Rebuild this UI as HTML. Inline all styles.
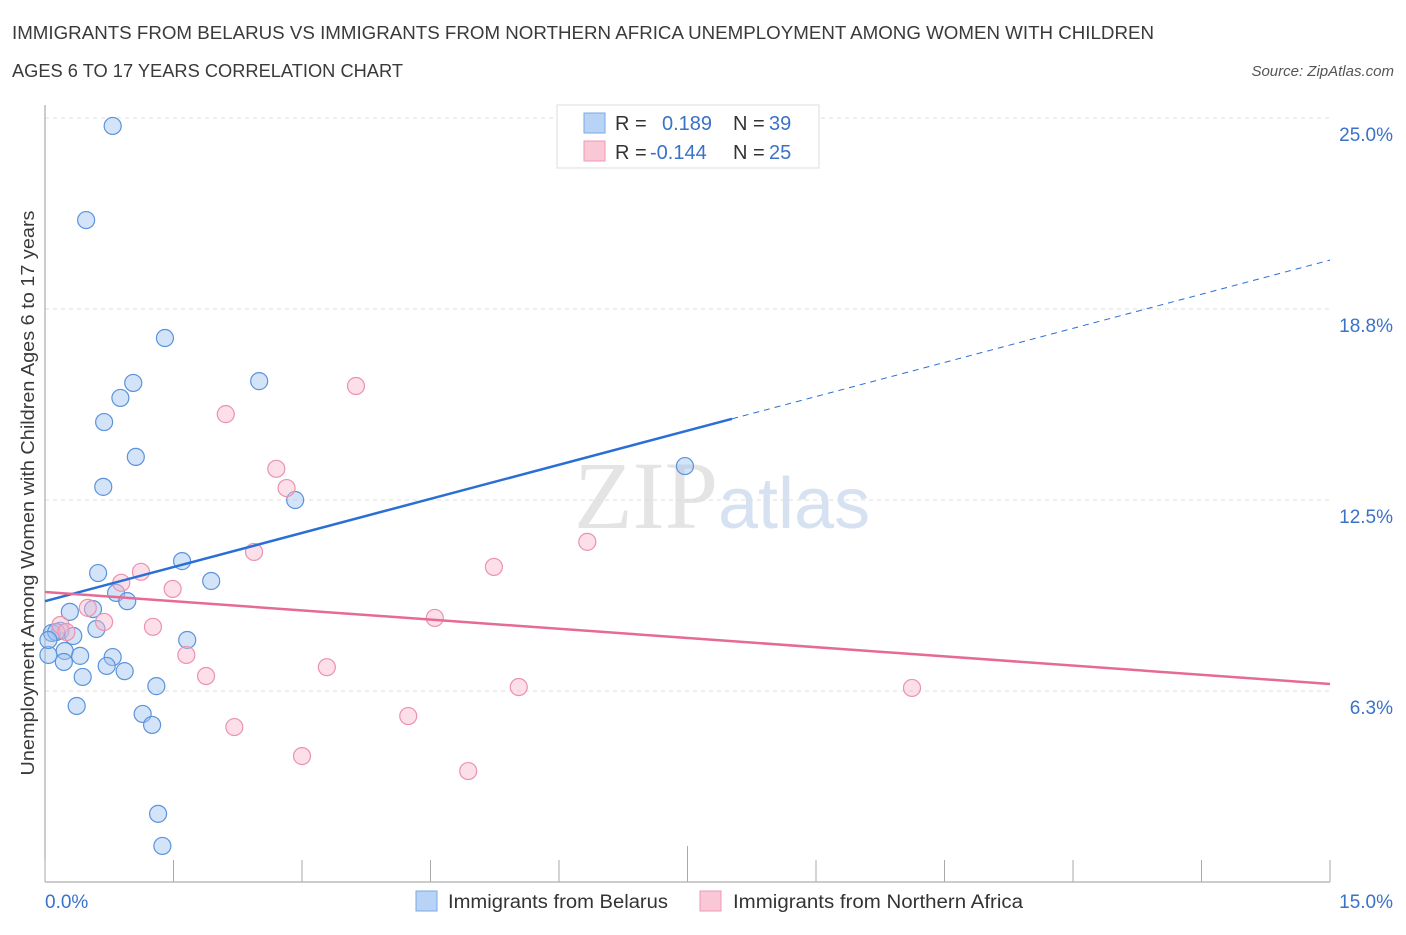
<!DOCTYPE html>
<html><head><meta charset="utf-8"><style>
body{margin:0;background:#fff;font-family:"Liberation Sans",sans-serif;}
</style></head><body>
<svg id="c" width="1406" height="930" xmlns="http://www.w3.org/2000/svg">
<text x="12" y="39" font-size="18" textLength="1142" lengthAdjust="spacingAndGlyphs" fill="#3a3a3a">IMMIGRANTS FROM BELARUS VS IMMIGRANTS FROM NORTHERN AFRICA UNEMPLOYMENT AMONG WOMEN WITH CHILDREN</text>
<text x="12" y="77" font-size="18" textLength="391" lengthAdjust="spacingAndGlyphs" fill="#3a3a3a">AGES 6 TO 17 YEARS CORRELATION CHART</text>
<text x="1394" y="76" font-size="15" font-style="italic" fill="#555" text-anchor="end">Source: ZipAtlas.com</text>
<text x="718" y="528" font-size="96" font-family="Liberation Serif,serif" fill="#e4e4e4" text-anchor="end">ZIP</text>
<text x="718" y="528" font-size="72" fill="#d6e2f2">atlas</text>
<text transform="translate(34,493) rotate(-90)" font-size="18" textLength="565" lengthAdjust="spacingAndGlyphs" fill="#3a3a3a" text-anchor="middle">Unemployment Among Women with Children Ages 6 to 17 years</text>
<g id="grid"></g><g id="pts"></g><g id="lines"></g>
<g>
<rect x="557" y="105" width="262" height="63" fill="#fff" stroke="#ddd"/>
<rect x="584" y="113" width="21" height="20" fill="#b8d3f5" stroke="#7aa8e6"/>
<rect x="584" y="141" width="21" height="20" fill="#f9c7d6" stroke="#ee9ab4"/>
<text x="615" y="130" font-size="20" fill="#333">R = </text><text x="662" y="130" font-size="20" fill="#3a72c8">0.189</text>
<text x="733" y="130" font-size="20" fill="#333">N = </text><text x="769" y="130" font-size="20" fill="#3a72c8">39</text>
<text x="615" y="159" font-size="20" fill="#333">R = </text><text x="650" y="159" font-size="20" fill="#3a72c8">-0.144</text>
<text x="733" y="159" font-size="20" fill="#333">N = </text><text x="769" y="159" font-size="20" fill="#3a72c8">25</text>
</g>
<g>
<rect x="416" y="891" width="21" height="20" fill="#b8d3f5" stroke="#7aa8e6"/>
<text x="448" y="908" font-size="19" textLength="220" lengthAdjust="spacingAndGlyphs" fill="#333">Immigrants from Belarus</text>
<rect x="700" y="891" width="21" height="20" fill="#f9c7d6" stroke="#ee9ab4"/>
<text x="733" y="908" font-size="19" textLength="290" lengthAdjust="spacingAndGlyphs" fill="#333">Immigrants from Northern Africa</text>
</g>
</svg>
<script>
const yTicks=[6.25,12.5,18.75,25];
const yTickLabels=["6.3%","12.5%","18.8%","25.0%"];
const xTickLabels=["0.0%","15.0%"];
const belarusX=[0.79,0.48,1.40,2.50,1.03,0.88,0.69,1.06,0.68,7.47,2.92,1.60,0.62,1.94,0.83,0.96,0.56,0.29,0.60,0.18,0.08,0.13,0.33,0.04,0.23,0.41,0.22,0.79,0.72,0.93,0.44,1.30,0.37,1.66,1.14,1.25,1.32,1.37,0.04];
const belarusY=[24.74,21.66,17.80,16.39,16.33,15.84,15.05,13.91,12.93,13.61,12.50,10.50,10.11,9.85,9.46,9.19,8.93,8.84,8.28,8.22,8.15,8.18,8.05,7.43,7.56,7.40,7.20,7.36,7.07,6.90,6.71,6.41,5.76,7.92,5.50,5.14,2.23,1.18,7.92];
const africaX=[2.11,3.63,2.70,2.82,6.33,2.44,5.24,1.12,0.89,1.49,0.50,0.69,1.26,4.55,0.18,0.25,1.65,1.88,3.29,5.53,10.12,4.24,2.21,3.00,4.94];
const africaY=[15.31,16.23,13.52,12.89,11.13,10.80,10.31,10.15,9.79,9.59,8.97,8.51,8.35,8.64,8.41,8.18,7.43,6.74,7.03,6.38,6.35,5.43,5.07,4.12,3.63];
const belarusTrend=[9.19,20.35], belarusSolidEnd=8.02;
const africaTrend=[9.49,6.48];
const NS="http://www.w3.org/2000/svg";
const X=v=>45+v*85.67, Y=v=>882-v*30.56;
function mk(t,a,p){const e=document.createElementNS(NS,t);for(const k in a)e.setAttribute(k,a[k]);p.appendChild(e);return e;}
const grid=document.getElementById('grid');
yTicks.forEach((t,i)=>{
 const l=mk('line',{x1:45,x2:1330,y1:Y(t),y2:Y(t),stroke:'#ddd','stroke-dasharray':'4,4'},grid);
 
 
 const tx=mk('text',{x:1393,y:Y(t)+23,'font-size':19,fill:'#3a72c8','text-anchor':'end'},grid);
 tx.textContent=yTickLabels[i];
 
 
});
const ax=mk('line',{x1:45,x2:45,y1:105,y2:882,stroke:'#999'},grid);


const bx=mk('line',{x1:45,x2:1330,y1:882,y2:882,stroke:'#999'},grid);


for(let i=0;i<=10;i++){const x=45+i*128.5;const t=mk('line',{x1:x,x2:x,y1:882,y2:i==5?846:860,stroke:'#aaa'},grid);
 
 }
[[45,'start'],[1393,'end']].forEach((d,i)=>{const t=mk('text',{x:d[0],y:908,'font-size':19,fill:'#3a72c8','text-anchor':d[1]},grid);
 t.textContent=xTickLabels[i];
 
 });
const pts=document.getElementById('pts');
belarusX.forEach((x,i)=>{const c=mk('circle',{cx:X(x),cy:Y(belarusY[i]),r:8.5,fill:'rgba(160,195,240,0.45)',stroke:'#5b93dc','stroke-width':1.2},pts);
 
 });
africaX.forEach((x,i)=>{const c=mk('circle',{cx:X(x),cy:Y(africaY[i]),r:8.5,fill:'rgba(248,185,205,0.45)',stroke:'#ec92ae','stroke-width':1.2},pts);
 
 });
const ln=document.getElementById('lines');
const by=x=>belarusTrend[0]+(belarusTrend[1]-belarusTrend[0])*x/15;
const l1=mk('line',{x1:X(0),y1:Y(by(0)),x2:X(belarusSolidEnd),y2:Y(by(belarusSolidEnd)),stroke:'#2a6fd6','stroke-width':2.5},ln);


const l2=mk('line',{x1:X(belarusSolidEnd),y1:Y(by(belarusSolidEnd)),x2:X(15),y2:Y(by(15)),stroke:'#2a6fd6','stroke-width':1,'stroke-dasharray':'6,5'},ln);


const l3=mk('line',{x1:X(0),y1:Y(africaTrend[0]),x2:X(15),y2:Y(africaTrend[1]),stroke:'#e56b94','stroke-width':2.5},ln);


</script>
</body></html>
